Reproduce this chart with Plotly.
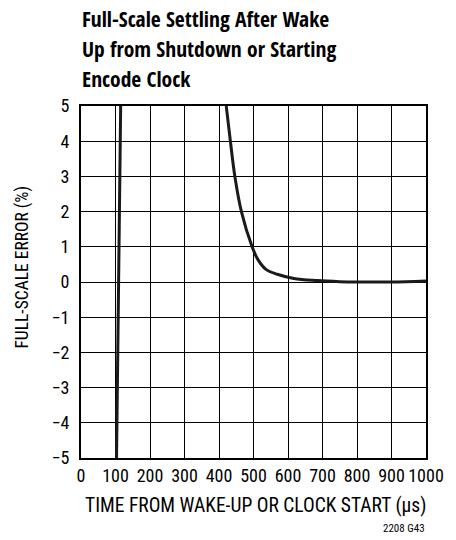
import plotly.graph_objects as go

# Data
spike_x = [103, 115]
spike_y = [-5, 5]

settle_x = [421, 433, 446, 465, 496, 512, 536, 569, 617, 684, 750, 800, 900, 1000]
settle_y = [5.0, 4.0, 3.0, 2.0, 1.0, 0.65, 0.36, 0.22, 0.10, 0.04, 0.01, 0.0, 0.0, 0.03]

x_ticks = [0, 100, 200, 300, 400, 500, 600, 700, 800, 900, 1000]
y_ticks = [-5, -4, -3, -2, -1, 0, 1, 2, 3, 4, 5]

title_lines = ["Full-Scale Settling After Wake", "Up from Shutdown or Starting", "Encode Clock"]

FONT = "Roboto Condensed, DejaVu Sans Condensed, sans-serif"
TFONT = "Open Sans Condensed, Roboto Condensed, sans-serif"

fig = go.Figure()
fig.add_trace(go.Scatter(x=spike_x, y=spike_y, mode="lines",
                         line=dict(color="#1a1a1a", width=3),
                         showlegend=False, hoverinfo="skip"))
fig.add_trace(go.Scatter(x=settle_x, y=settle_y, mode="lines",
                         line=dict(color="#1a1a1a", width=3, shape="spline", smoothing=1.0),
                         showlegend=False, hoverinfo="skip"))

axis_common = dict(showgrid=True, gridcolor="#000000", gridwidth=1,
                   showline=True, linecolor="#000000", linewidth=2, mirror=True,
                   zeroline=False, ticks="", tickfont=dict(family=FONT, size=18, color="#000"))

fig.update_xaxes(range=[0, 1000], tickvals=x_ticks, ticktext=[str(v) for v in x_ticks],
                 **axis_common)
fig.update_yaxes(range=[-5, 5], tickvals=y_ticks, ticklabelstandoff=6, **axis_common)

annotations = []
for i, t in enumerate(title_lines):
    annotations.append(dict(text=f"<b>{t}</b>", xref="paper", yref="paper", x=0, y=1,
                            xanchor="left", yanchor="middle", showarrow=False,
                            xshift=-1, yshift=87.2 - 30 * i,
                            font=dict(family=TFONT, size=21.5, color="#000")))
annotations.append(dict(text="TIME FROM WAKE-UP OR CLOCK START (\u03bcs)", xref="paper", yref="paper",
                        x=0.5, y=0, xanchor="center", yanchor="middle", showarrow=False,
                        yshift=-47.3, xshift=2,
                        font=dict(family=FONT, size=19.5, color="#000")))
annotations.append(dict(text="FULL-SCALE ERROR (%)", xref="paper", yref="paper",
                        x=0, y=0.5, xanchor="center", yanchor="middle", showarrow=False,
                        textangle=-90, xshift=-58.7, yshift=14.7,
                        font=dict(family=FONT, size=17.5, color="#000")))
annotations.append(dict(text="2208 G43", xref="paper", yref="paper",
                        x=1, y=0, xanchor="right", yanchor="middle", showarrow=False,
                        yshift=-70, xshift=1,
                        font=dict(family=FONT, size=11, color="#000")))

fig.update_layout(width=456, height=540,
                  margin=dict(l=80.7, r=24.5, t=105.7, b=82.3),
                  paper_bgcolor="white", plot_bgcolor="white",
                  annotations=annotations, showlegend=False)

# remove the default 8px page margin so the figure sits at the window origin
fig.write_html("out.html", config={"displayModeBar": False},
               post_script="document.body.style.margin='0';")
